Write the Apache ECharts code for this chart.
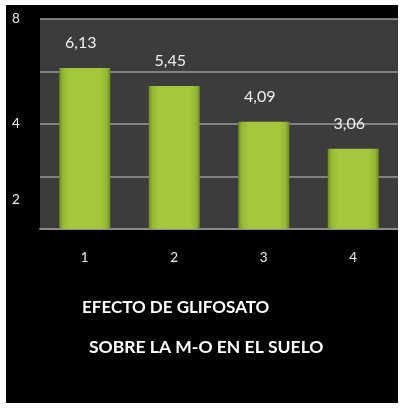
<!DOCTYPE html>
<html><head><meta charset="utf-8">
<script src="https://cdn.jsdelivr.net/npm/echarts@6/dist/echarts.min.js"></script>
<style>
html,body{margin:0;padding:0;background:#fff;width:405px;height:409px;overflow:hidden;}
#box{position:absolute;left:6px;top:5px;width:392px;height:398px;background:#000;}
#chart{width:392px;height:398px;}
</style></head>
<body><div id="box"><div id="chart"></div></div>
<script>
const categories = ['1', '2', '3', '4'];
const values = [6.13, 5.45, 4.09, 3.06];
const yTickValues = [8, 4, 1.1];
const yTickLabels = ['8', '4', '2'];
const titleLine1 = 'EFECTO DE GLIFOSATO';
const titleLine2 = 'SOBRE LA M-O EN EL SUELO';

const chart = echarts.init(document.getElementById('chart'));
const font = 'Lato, "Open Sans", sans-serif';
chart.setOption({
  backgroundColor: '#000',
  animation: false,
  title: [
    { text: titleLine1, left: 71, top: 289, textStyle: { color: '#fff', fontSize: 17, fontWeight: 'bold', fontFamily: font } },
    { text: titleLine2, left: 78, top: 328, textStyle: { color: '#fff', fontSize: 17.5, fontWeight: 'bold', fontFamily: font } }
  ],
  grid: { left: 34, right: 0, top: 14, bottom: 174, show: true, backgroundColor: '#3c3c3c', borderWidth: 0 },
  xAxis: {
    type: 'category', data: categories,
    axisLine: { show: true, lineStyle: { color: '#8c8c8c', width: 2 } },
    axisTick: { show: false },
    axisLabel: { color: '#eeeeee', fontSize: 13.5, fontFamily: font, margin: 22 }
  },
  yAxis: {
    type: 'value', min: 0, max: 8, interval: 2,
    axisLine: { show: false }, axisTick: { show: false },
    splitLine: { show: true, lineStyle: { color: '#9a9a9a', width: 1.5 } },
    axisLabel: {
      color: '#eeeeee', fontSize: 13.5, fontFamily: font, align: 'left', margin: 28,
      customValues: yTickValues,
      formatter: v => { const i = yTickValues.indexOf(v); return i >= 0 ? yTickLabels[i] : ''; }
    }
  },
  series: [{
    type: 'bar', data: values, barWidth: 51,
    itemStyle: {
      color: new echarts.graphic.LinearGradient(0, 0, 1, 0, [
        { offset: 0, color: '#6e8c1c' },
        { offset: 0.07, color: '#93b832' },
        { offset: 0.2, color: '#a3c83e' },
        { offset: 0.8, color: '#a3c83e' },
        { offset: 0.93, color: '#93b832' },
        { offset: 1, color: '#6e8c1c' }
      ])
    },
    label: {
      show: true, position: 'top', distance: 17, offset: [-4, 0],
      color: '#f0f0f0', fontSize: 16, fontFamily: font,
      formatter: p => p.value.toFixed(2).replace('.', ',')
    }
  }]
});
</script></body></html>
